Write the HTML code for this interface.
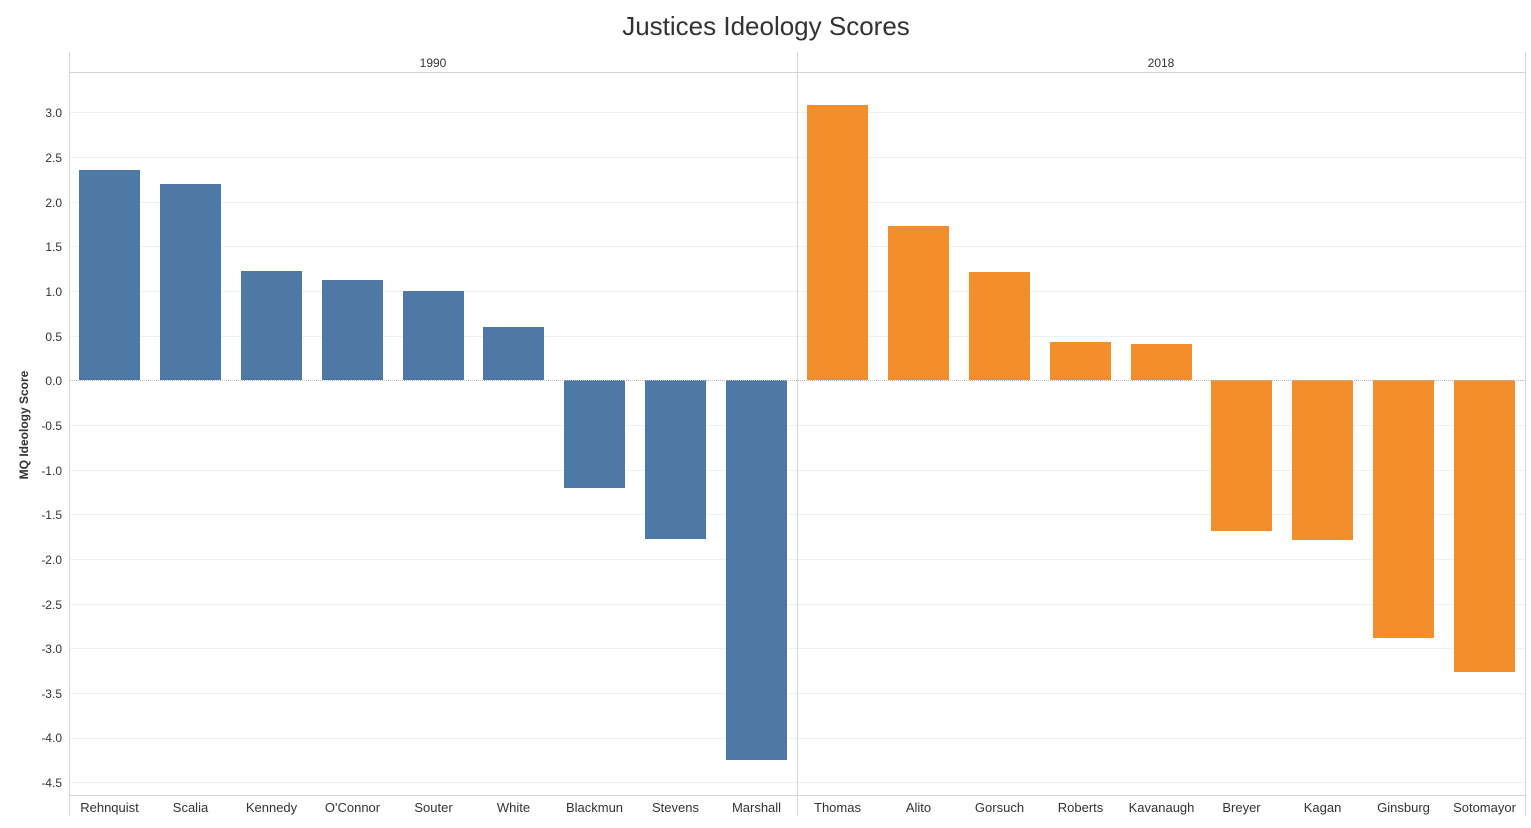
<!DOCTYPE html>
<html><head><meta charset="utf-8"><style>
body{margin:0;background:#fff;}
svg text{font-family:"Liberation Sans",sans-serif;}
</style></head><body>
<svg width="1531" height="823" xmlns="http://www.w3.org/2000/svg">
<text x="766" y="35" text-anchor="middle" font-size="26" fill="#333">Justices Ideology Scores</text>
<!-- gridlines -->
<g stroke="#f0f0f0" stroke-width="1">
<line x1="70" x2="1525" y1="112.5" y2="112.5"/><line x1="70" x2="1525" y1="157.5" y2="157.5"/>
<line x1="70" x2="1525" y1="202.5" y2="202.5"/><line x1="70" x2="1525" y1="246.5" y2="246.5"/>
<line x1="70" x2="1525" y1="291.5" y2="291.5"/><line x1="70" x2="1525" y1="336.5" y2="336.5"/>
<line x1="70" x2="1525" y1="425.5" y2="425.5"/><line x1="70" x2="1525" y1="470.5" y2="470.5"/>
<line x1="70" x2="1525" y1="514.5" y2="514.5"/><line x1="70" x2="1525" y1="559.5" y2="559.5"/>
<line x1="70" x2="1525" y1="604.5" y2="604.5"/><line x1="70" x2="1525" y1="648.5" y2="648.5"/>
<line x1="70" x2="1525" y1="693.5" y2="693.5"/><line x1="70" x2="1525" y1="738.5" y2="738.5"/>
<line x1="70" x2="1525" y1="782.5" y2="782.5"/>
</g>
<!-- frame -->
<g stroke="#d4d4d4" stroke-width="1" fill="none">
<line x1="69.5" y1="52" x2="69.5" y2="816"/>
<line x1="797.5" y1="52" x2="797.5" y2="816"/>
<line x1="1525.5" y1="52" x2="1525.5" y2="816"/>
<line x1="70" y1="72.5" x2="1525" y2="72.5"/>
<line x1="70" y1="795.5" x2="1525" y2="795.5"/>
</g>
<text x="433" y="67" text-anchor="middle" font-size="12" fill="#333">1990</text>
<text x="1161" y="67" text-anchor="middle" font-size="12" fill="#333">2018</text>
<!-- bars -->
<g fill="#4e79a7">
<rect x="79" y="170" width="61" height="210"/>
<rect x="160" y="184" width="61" height="196"/>
<rect x="241" y="271" width="61" height="109"/>
<rect x="322" y="280" width="61" height="100"/>
<rect x="403" y="291" width="61" height="89"/>
<rect x="483" y="327" width="61" height="53"/>
<rect x="564" y="380" width="61" height="108"/>
<rect x="645" y="380" width="61" height="159"/>
<rect x="726" y="380" width="61" height="380"/>
</g>
<g fill="#f28e2b">
<rect x="807" y="105" width="61" height="275"/>
<rect x="888" y="226" width="61" height="154"/>
<rect x="969" y="272" width="61" height="108"/>
<rect x="1050" y="342" width="61" height="38"/>
<rect x="1131" y="344" width="61" height="36"/>
<rect x="1211" y="380" width="61" height="151"/>
<rect x="1292" y="380" width="61" height="160"/>
<rect x="1373" y="380" width="61" height="258"/>
<rect x="1454" y="380" width="61" height="292"/>
</g>
<line x1="70" x2="1525" y1="380.5" y2="380.5" stroke="#bbb" stroke-dasharray="1,1"/>
<!-- y ticks -->
<g font-size="12" fill="#333" text-anchor="end">
<text x="62" y="117">3.0</text><text x="62" y="162">2.5</text><text x="62" y="207">2.0</text>
<text x="62" y="251">1.5</text><text x="62" y="296">1.0</text><text x="62" y="341">0.5</text>
<text x="62" y="385">0.0</text><text x="62" y="430">-0.5</text><text x="62" y="475">-1.0</text>
<text x="62" y="519">-1.5</text><text x="62" y="564">-2.0</text><text x="62" y="609">-2.5</text>
<text x="62" y="653">-3.0</text><text x="62" y="698">-3.5</text><text x="62" y="742">-4.0</text>
<text x="62" y="787">-4.5</text>
</g>
<text transform="translate(28,425) rotate(-90)" text-anchor="middle" font-size="12" font-weight="bold" fill="#333">MQ Ideology Score</text>
<g font-size="13" fill="#333" text-anchor="middle">
<text x="109.5" y="812">Rehnquist</text><text x="190.5" y="812">Scalia</text><text x="271.5" y="812">Kennedy</text>
<text x="352.5" y="812">O'Connor</text><text x="433.5" y="812">Souter</text><text x="513.5" y="812">White</text>
<text x="594.5" y="812">Blackmun</text><text x="675.5" y="812">Stevens</text><text x="756.5" y="812">Marshall</text>
<text x="837.5" y="812">Thomas</text><text x="918.5" y="812">Alito</text><text x="999.5" y="812">Gorsuch</text>
<text x="1080.5" y="812">Roberts</text><text x="1161.5" y="812">Kavanaugh</text><text x="1241.5" y="812">Breyer</text>
<text x="1322.5" y="812">Kagan</text><text x="1403.5" y="812">Ginsburg</text><text x="1484.5" y="812">Sotomayor</text>
</g>
</svg>
</body></html>
